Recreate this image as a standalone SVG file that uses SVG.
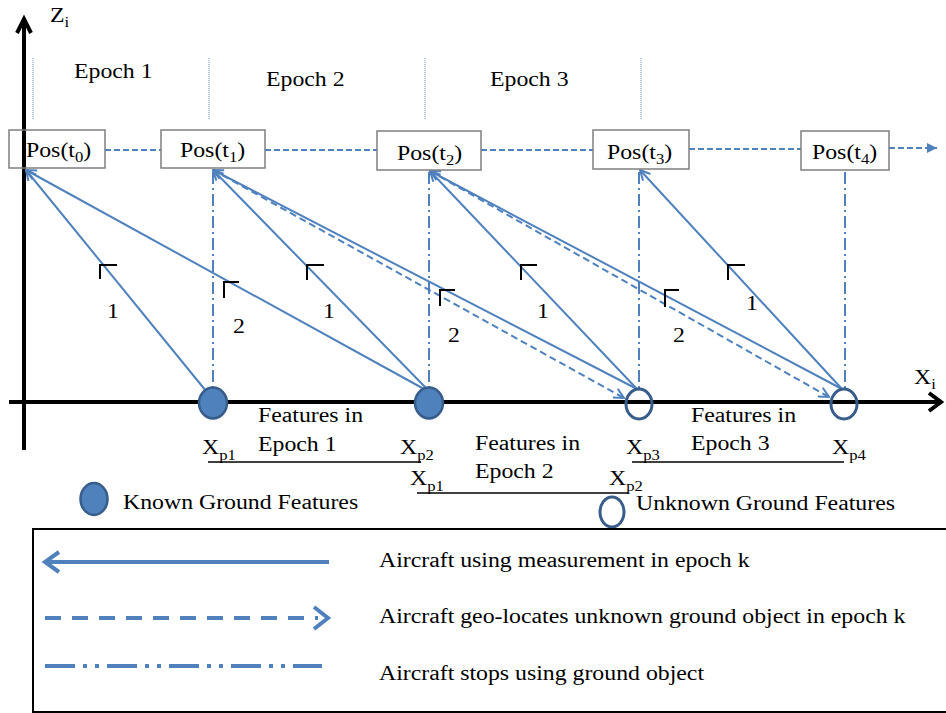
<svg xmlns="http://www.w3.org/2000/svg" width="946" height="713" viewBox="0 0 946 713">
<defs>
<style>
.t{font-family:"Liberation Serif","Times New Roman",serif;font-size:20px;fill:#000}
.sub{font-size:14px}
.box{fill:none;stroke:#7f7f7f;stroke-width:1.5}
.meas{stroke:#4f81bd;stroke-width:2;fill:none}
.geo{stroke:#4f81bd;stroke-width:2;fill:none;stroke-dasharray:7 4}
.stop{stroke:#4f81bd;stroke-width:2;fill:none;stroke-dasharray:12 4 2 4}
.seq{stroke:#4f81bd;stroke-width:2.2;fill:none;stroke-dasharray:6 3}
.ep{stroke:#95b3d7;stroke-width:1.5;stroke-dasharray:1 1}
.axis{stroke:#000;stroke-width:4;fill:none}
.mk{stroke:#000;stroke-width:2;fill:none}
.known{fill:#4f81bd;stroke:#385d8a;stroke-width:2.5}
.unk{fill:none;stroke:#385d8a;stroke-width:3}
.uline{stroke:#000;stroke-width:1.5}
.leg{stroke:#4f81bd;stroke-width:4;fill:none}
</style>
<marker id="ah" viewBox="0 0 12 12" refX="11" refY="6" markerWidth="12" markerHeight="12" markerUnits="userSpaceOnUse" orient="auto"><path d="M1,1 L11,6 L1,11" fill="none" stroke="#4f81bd" stroke-width="2"/></marker>
<marker id="tri" viewBox="0 0 10 10" refX="10" refY="5" markerWidth="10" markerHeight="10" markerUnits="userSpaceOnUse" orient="auto"><path d="M0,0 L10,5 L0,10 Z" fill="#4f81bd"/></marker>
</defs>
<rect width="946" height="713" fill="#fff"/>

<g id="axes">
<path class="axis" d="M24,450 V20"/>
<path class="axis" d="M17,33 L24,19 L31,33"/>
<path class="axis" d="M9,402 H940"/>
<path class="axis" d="M929,393 L941,402 L929,411"/>
<text class="t" transform="translate(50,22) scale(1.19,1)">Z<tspan class="sub" dy="5">i</tspan></text>
<text class="t" transform="translate(914,384) scale(1.19,1)">X<tspan class="sub" dy="5">i</tspan></text>
</g>

<g id="epochs">
<path class="ep" d="M33,58 V120 M209,58 V120 M425,58 V120 M641,58 V120"/>
<text class="t" transform="translate(74,78) scale(1.19,1)">Epoch 1</text>
<text class="t" transform="translate(266,86) scale(1.19,1)">Epoch 2</text>
<text class="t" transform="translate(490,86) scale(1.19,1)">Epoch 3</text>
</g>

<g id="connectors">
<path class="seq" d="M105,150 H161"/>
<path class="seq" d="M265,150 H377"/>
<path class="seq" d="M481,150 H593"/>
<path class="seq" d="M689,149 H801"/>
<path class="seq" d="M889,148 H937" marker-end="url(#tri)"/>
<path class="stop" d="M213,172 V388"/>
<path class="stop" d="M429,172 V388"/>
<path class="stop" d="M639,172 V389"/>
<path class="stop" d="M845,172 V389"/>
<path class="meas" d="M206,391 L26,170" marker-end="url(#ah)"/>
<path class="meas" d="M424,389 L26,170" marker-end="url(#ah)"/>
<path class="meas" d="M427,389 L213,170" marker-end="url(#ah)"/>
<path class="meas" d="M637,389 L213,170" marker-end="url(#ah)"/>
<path class="geo" d="M213,170 L624,398" marker-end="url(#ah)"/>
<path class="meas" d="M637,389 L430,171" marker-end="url(#ah)"/>
<path class="meas" d="M842,389 L430,171" marker-end="url(#ah)"/>
<path class="geo" d="M430,171 L829,397" marker-end="url(#ah)"/>
<path class="meas" d="M842,389 L640,170" marker-end="url(#ah)"/>
<path class="mk" d="M117,265 H100 V279 M239,282 H224 V298 M324,265 H307 V280 M455,290 H440 V306 M537,265 H521 V280 M679,290 H665 V307 M745,265 H728 V280"/>
<text class="t" transform="translate(107,318) scale(1.19,1)">1</text>
<text class="t" transform="translate(233,333) scale(1.19,1)">2</text>
<text class="t" transform="translate(323,318) scale(1.19,1)">1</text>
<text class="t" transform="translate(448,342) scale(1.19,1)">2</text>
<text class="t" transform="translate(537,318) scale(1.19,1)">1</text>
<text class="t" transform="translate(673,342) scale(1.19,1)">2</text>
<text class="t" transform="translate(746,310) scale(1.19,1)">1</text>
</g>

<g id="pos0"><rect class="box" x="9" y="130" width="96" height="38"/><text class="t" transform="translate(26,157) scale(1.19,1)">Pos(t<tspan class="sub" dy="5">0</tspan><tspan dy="-5">)</tspan></text></g>
<g id="pos1"><rect class="box" x="161" y="130" width="104" height="38"/><text class="t" transform="translate(180,157) scale(1.19,1)">Pos(t<tspan class="sub" dy="5">1</tspan><tspan dy="-5">)</tspan></text></g>
<g id="pos2"><rect class="box" x="377" y="131" width="104" height="39"/><text class="t" transform="translate(397,160) scale(1.19,1)">Pos(t<tspan class="sub" dy="5">2</tspan><tspan dy="-5">)</tspan></text></g>
<g id="pos3"><rect class="box" x="593" y="130" width="96" height="39"/><text class="t" transform="translate(607,159) scale(1.19,1)">Pos(t<tspan class="sub" dy="5">3</tspan><tspan dy="-5">)</tspan></text></g>
<g id="pos4"><rect class="box" x="801" y="131" width="88" height="39"/><text class="t" transform="translate(812,159) scale(1.19,1)">Pos(t<tspan class="sub" dy="5">4</tspan><tspan dy="-5">)</tspan></text></g>

<g id="feat1"><ellipse class="known" cx="213" cy="403" rx="14" ry="15.5"/></g>
<g id="feat2"><ellipse class="known" cx="429" cy="403" rx="14" ry="15.5"/></g>
<g id="feat3"><ellipse class="unk" cx="639" cy="404" rx="13" ry="15"/></g>
<g id="feat4"><ellipse class="unk" cx="844" cy="404" rx="13" ry="15"/></g>

<g id="groups">
<text class="t" transform="translate(258,422) scale(1.19,1)">Features in</text>
<text class="t" transform="translate(258,451) scale(1.19,1)">Epoch 1</text>
<text class="t" transform="translate(475,450) scale(1.19,1)">Features in</text>
<text class="t" transform="translate(475,478) scale(1.19,1)">Epoch 2</text>
<text class="t" transform="translate(691,422) scale(1.19,1)">Features in</text>
<text class="t" transform="translate(691,450) scale(1.19,1)">Epoch 3</text>
<text class="t" transform="translate(202,454) scale(1.19,1)">X<tspan class="sub" dy="6">p1</tspan></text>
<text class="t" transform="translate(400,454) scale(1.19,1)">X<tspan class="sub" dy="6">p2</tspan></text>
<path class="uline" d="M208,462 H421"/>
<text class="t" transform="translate(410,485) scale(1.19,1)">X<tspan class="sub" dy="6">p1</tspan></text>
<text class="t" transform="translate(609,485) scale(1.19,1)">X<tspan class="sub" dy="6">p2</tspan></text>
<path class="uline" d="M417,493 H628"/>
<text class="t" transform="translate(626,454) scale(1.19,1)">X<tspan class="sub" dy="6">p3</tspan></text>
<text class="t" transform="translate(832,454) scale(1.19,1)">X<tspan class="sub" dy="6">p4</tspan></text>
<path class="uline" d="M632,462 H844"/>
</g>

<g id="keys">
<ellipse class="known" cx="94" cy="499" rx="13.5" ry="16"/>
<text class="t" transform="translate(123,509) scale(1.19,1)">Known Ground Features</text>
<ellipse class="unk" cx="612" cy="512" rx="12" ry="15"/>
<text class="t" transform="translate(636,510) scale(1.19,1)">Unknown Ground Features</text>
</g>

<g id="legend">
<rect x="33" y="529" width="930" height="183" fill="none" stroke="#000" stroke-width="2"/>
<path class="leg" d="M45,562 H329"/>
<path class="leg" d="M59,552 L45,562 L59,572"/>
<path class="leg" d="M45,618 H318" style="stroke-dasharray:16 11"/>
<path class="leg" d="M314,607 L328,618 L314,629"/>
<path class="leg" d="M45,666 H322" style="stroke-dasharray:30 8 4 8 4 8"/>
<text class="t" transform="translate(379,567) scale(1.19,1)">Aircraft using measurement in epoch k</text>
<text class="t" transform="translate(379,623) scale(1.19,1)">Aircraft geo-locates unknown ground object in epoch k</text>
<text class="t" transform="translate(379,680) scale(1.19,1)">Aircraft stops using ground object</text>
</g>
</svg>
